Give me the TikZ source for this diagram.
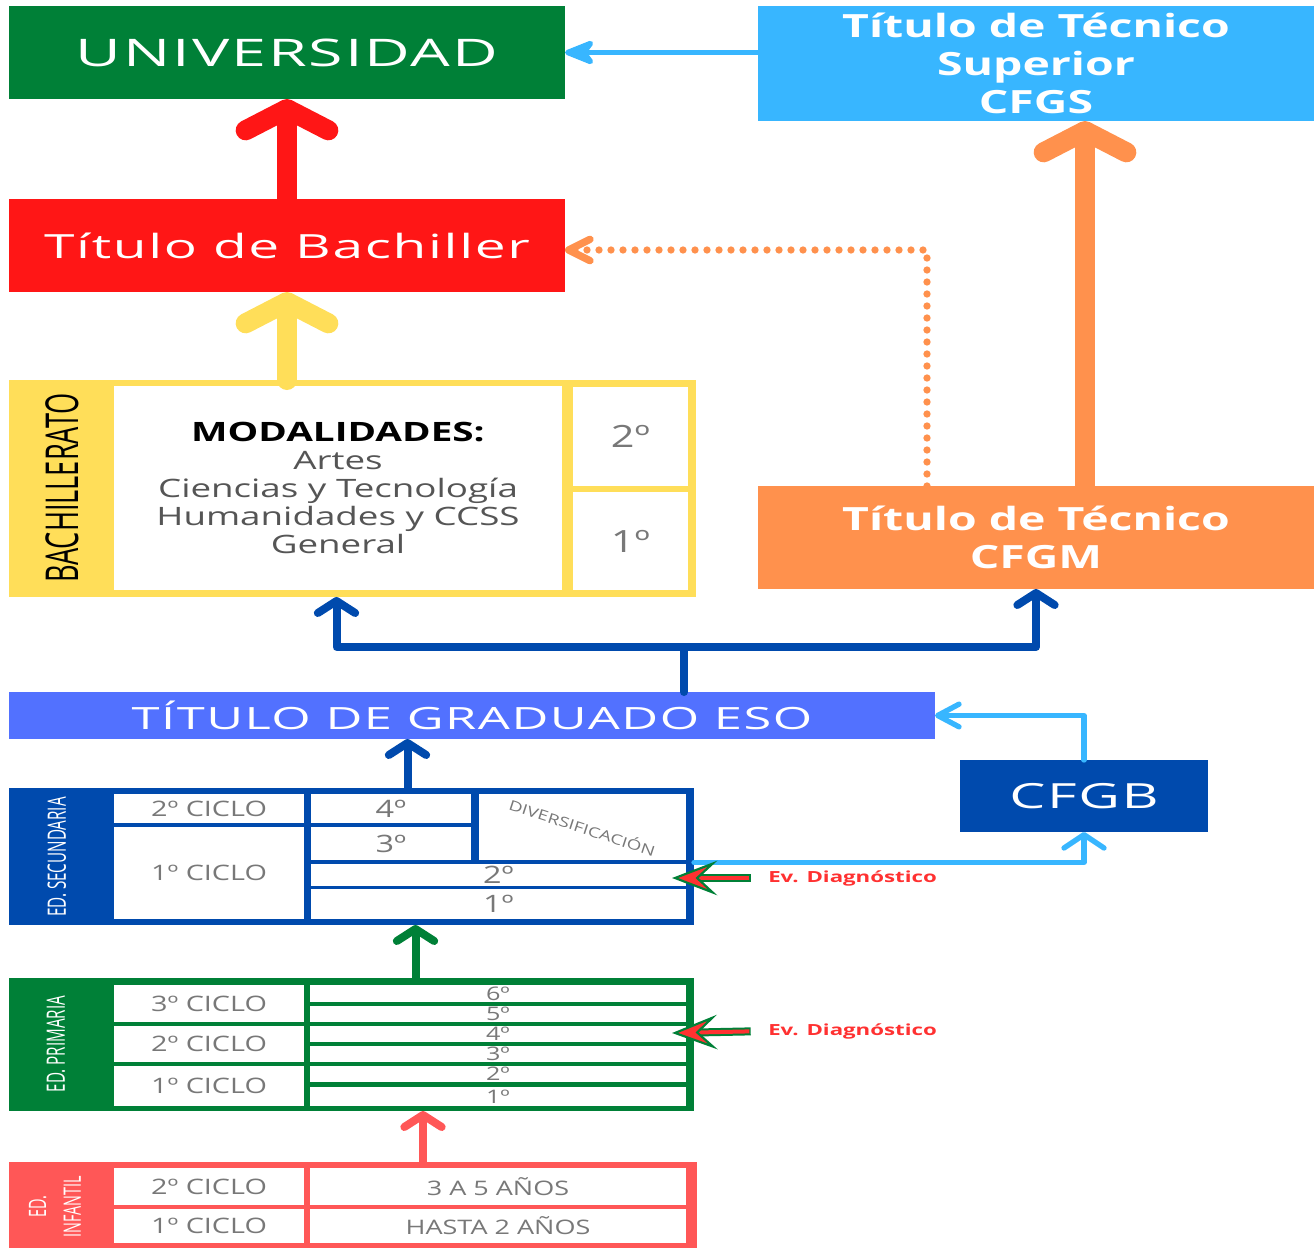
\documentclass[tikz,border=0pt]{standalone}
\usepackage{fontspec}
\setmainfont{Open Sans}
\newfontfamily\hfont[FakeStretch=1.45]{Open Sans}
\newfontfamily\lsfont[FakeStretch=1.65,LetterSpace=5]{Open Sans}
\newfontfamily\cfont[FakeStretch=1.35]{Open Sans}
\newfontfamily\nfont[FakeStretch=0.6]{Open Sans}
\usetikzlibrary{arrows.meta}
\usetikzlibrary{calc}
\definecolor{ugreen}{RGB}{0,128,55}
\definecolor{bred}{RGB}{255,22,22}
\definecolor{skyblue}{RGB}{56,182,255}
\definecolor{corange}{RGB}{255,145,77}
\definecolor{byellow}{RGB}{255,222,89}
\definecolor{dkblue}{RGB}{0,74,173}
\definecolor{esoblue}{RGB}{82,113,255}
\definecolor{ipink}{RGB}{255,87,87}
\definecolor{cellgray}{RGB}{120,120,120}
\definecolor{modgray}{RGB}{85,85,85}
\definecolor{evred}{RGB}{255,49,49}

\tikzset{
	spot/.style args={#1/#2/#3/#4}{minimum width={(#3-#1)*0.75pt},minimum height={(#4-#2)*0.75pt},at={({(#1+#3)/2},{(#2+#4)/2})}},
	box/.style={inner sep=0pt,outer sep=0pt,text=white,align=center},
	frame/.style={inner sep=0pt,outer sep=0pt},
	cellbase/.style={fill=white,inner sep=0pt,outer sep=0pt,text=cellgray},
	cell/.style={cellbase,font=\cfont\fontsize{16}{18}\selectfont},
	grade/.style={cell,font=\cfont\fontsize{14}{15}\selectfont},
	band/.style={rotate=90,text=white,inner sep=0pt,align=center,font=\nfont\fontsize{19}{26}\selectfont},
	evlbl/.style={anchor=west,inner sep=0pt,text=evred,font=\hfont\bfseries\fontsize{11.5}{13}\selectfont},
	bigarrow/.style={line width=15pt,line cap=round,-{Straight Barb[length=16pt,width=62pt,round]}},
	midline/.style={dkblue,line width=6pt,line cap=round,line join=round},
	midarrow/.style={midline,-{Straight Barb[length=9pt,width=28pt,round]}},
	skyline/.style={skyblue,line width=4pt,line cap=round,line join=round},
	skyharrow/.style={skyline,-{Straight Barb[length=16pt,width=17pt,round]}},
	skyvarrow/.style={skyline,-{Straight Barb[length=10pt,width=30pt,round]}},
	skytop/.style={skyline,-{Stealth[length=28pt,width=22pt,inset=8pt,round]}},
	odots/.style={corange,line width=5.5pt,line cap=round,dash pattern=on 0pt off 9pt,-{Straight Barb[length=16pt,width=16pt,round]}},
	evback/.style={ugreen,line width=6pt},
	evfront/.style={evred,line width=3pt,-{Stealth[length=34pt,width=26pt,inset=14pt,fill=evred,color=ugreen,line width=1.6pt]}},
}

\begin{document}
\begin{tikzpicture}[x=0.75pt,y=0.75pt,yscale=-1,xscale=1]
	\useasboundingbox (0,0) rectangle (1316,1248);

	%Shape: Rectangle [id:univ]
	\node[box,fill=ugreen,spot=9/6/565/99,font=\lsfont\fontsize{28.5}{30}\selectfont] (univ) {UNIVERSIDAD};
	%Shape: Rectangle [id:cfgs]
	\node[box,fill=skyblue,spot=758/6/1314/121,font=\hfont\bfseries\fontsize{24}{28.5}\selectfont] (cfgs) {Título de Técnico\\Superior\\CFGS};
	%Shape: Rectangle [id:bach]
	\node[box,fill=bred,spot=9/199/565/292,font=\lsfont\fontsize{25}{27}\selectfont] (bach) {Título de Bachiller};
	%Shape: Rectangle [id:cfgm]
	\node[box,fill=corange,spot=758/486/1314/589,font=\hfont\bfseries\fontsize{24}{28.5}\selectfont] (cfgm) {Título de Técnico\\CFGM};
	%Shape: Rectangle [id:eso]
	\node[box,fill=esoblue,spot=9/692/935/739,font=\lsfont\fontsize{23}{25}\selectfont] (eso) {TÍTULO DE GRADUADO ESO};
	%Shape: Rectangle [id:cfgb]
	\node[box,fill=dkblue,spot=960/760/1208/832,font=\lsfont\fontsize{26}{28}\selectfont] (cfgb) {CFGB};

	%Shape: Rectangle [id:bachi]
	\node[frame,fill=byellow,spot=9/380/696/597] (bachi) {};
	\node[cellbase,spot=114/386/562/590,align=center,text=modgray,font=\hfont\fontsize{19}{21}\selectfont] (modal) {{\bfseries\color{black}\fontsize{20}{21}\selectfont MODALIDADES:}\\Artes\\Ciencias y Tecnología\\Humanidades y CCSS\\General};
	\node[cell,spot=573/387/688/486,font=\cfont\fontsize{23}{25}\selectfont] (b2) {2º};
	\node[cell,spot=573/492/688/590,font=\cfont\fontsize{23}{25}\selectfont] (b1) {1º};
	% Text Node
	\node[band,text=black,font=\nfont\fontsize{34}{36}\selectfont] (bachlbl) at (62,488) {BACHILLERATO};

	%Shape: Rectangle [id:sec]
	\node[frame,fill=dkblue,spot=9/788/694/925] (sec) {};
	\node[cell,spot=114/794/304/823] (s2c) {2º CICLO};
	\node[cell,spot=114/827/304/919] (s1c) {1º CICLO};
	\node[cell,spot=311/794/471/823,font=\cfont\fontsize{18}{20}\selectfont] (s4) {4º};
	\node[cell,spot=311/827/471/860,font=\cfont\fontsize{18}{20}\selectfont] (s3) {3º};
	\node[cellbase,spot=479/794/686/860] (sdiv) {};
	\node[cell,spot=311/864/686/886,font=\cfont\fontsize{18}{20}\selectfont] (s2) {2º};
	\node[cell,spot=311/889/686/919,font=\cfont\fontsize{18}{20}\selectfont] (s1) {1º};
	% Text Node
	\node[rotate=-18,inner sep=0pt,text=cellgray,font=\cfont\fontsize{10.5}{12}\selectfont] (divlbl) at (sdiv.center) {DIVERSIFICACIÓN};
	% Text Node
	\node[band] (seclbl) at (57,857) {ED. SECUNDARIA};

	%Shape: Rectangle [id:prim]
	\node[frame,fill=ugreen,spot=9/978/694/1111] (prim) {};
	\node[cell,spot=114/985/304/1022] (p3c) {3º CICLO};
	\node[cell,spot=114/1026/304/1062] (p2c) {2º CICLO};
	\node[cell,spot=114/1066/304/1106] (p1c) {1º CICLO};
	\node[grade,spot=310/985/686/1002] (p6) {6º};
	\node[grade,spot=310/1006/686/1022] (p5) {5º};
	\node[grade,spot=310/1026/686/1042] (p4) {4º};
	\node[grade,spot=310/1046/686/1062] (p3) {3º};
	\node[grade,spot=310/1066/686/1082] (p2) {2º};
	\node[grade,spot=310/1087/686/1106] (p1) {1º};
	% Text Node
	\node[band] (primlbl) at (56,1044) {ED. PRIMARIA};

	%Shape: Rectangle [id:inf]
	\node[frame,fill=ipink,spot=9/1162/697/1252] (inf) {};
	\node[cell,spot=114/1168/304/1205] (i2c) {2º CICLO};
	\node[cell,spot=114/1209/304/1243] (i1c) {1º CICLO};
	\node[cell,spot=310/1168/686/1205,font=\cfont\fontsize{15}{17}\selectfont] (i2a) {3 A 5 AÑOS};
	\node[cell,spot=310/1209/686/1243,font=\cfont\fontsize{15}{17}\selectfont] (i1a) {HASTA 2 AÑOS};
	% Text Node
	\node[band,font=\nfont\fontsize{18}{26}\selectfont] (inflbl) at (55,1207) {ED.\\INFANTIL};

	%Straight Lines [id:up]
	\draw[skytop] (cfgs.west |- univ.east) -- (univ.east);
	\draw[bigarrow,bred] (bach.north) -- (univ.south);
	\draw[bigarrow,byellow] (bach.south |- bachi.north) -- (bach.south);
	\coordinate (orup) at ($(cfgm.north)+(49,0)$);
	\draw[bigarrow,corange] (orup) -- (orup |- cfgs.south);
	\coordinate (dotup) at ($(cfgm.north)+(-109,0)$);
	\coordinate (dotend) at ($(bach.east)+(0,4.5)$);
	\draw[odots] (dotup) |- (dotend);

	%Straight Lines [id:fork]
	\coordinate (fork) at (684,647);
	\draw[midline] (eso.north -| fork) -- (fork);
	\draw[midarrow] (fork) -| ($(bachi.south)+(-16,0)$);
	\draw[midarrow] (fork) -| (cfgm.south);
	\coordinate (secup) at ($(sec.north)+(56,0)$);
	\draw[midarrow] (secup) -- (secup |- eso.south);
	\coordinate (primup) at ($(prim.north)+(64,0)$);
	\draw[midarrow,ugreen] (primup) -- (primup |- sec.south);
	\coordinate (infup) at ($(inf.north)+(70,0)$);
	\draw[midarrow,ipink] (infup) -- (infup |- prim.south);

	%Straight Lines [id:cfgb]
	\draw[skyharrow] (cfgb.north) |- (eso.east);
	\coordinate (secout) at ($(sec.east)+(0,6)$);
	\draw[skyvarrow] (secout) -| (cfgb.south);

	% Text Node
	\node[evlbl] (evsec) at (768,878) {Ev. Diagnóstico};
	% Text Node
	\node[evlbl] (evprim) at (768,1031) {Ev. Diagnóstico};
	\coordinate (evtipA) at ($(s2.east)+(-14,3)$);
	\coordinate (evtipB) at ($(p4.east)+(-14,-1)$);
	\draw[evback,shorten <=13pt,shorten >=20pt] (evsec.west) -- (evtipA);
	\draw[evfront,shorten <=14pt] (evsec.west) -- (evtipA);
	\draw[evback,shorten <=13pt,shorten >=20pt] (evprim.west) -- (evtipB);
	\draw[evfront,shorten <=14pt] (evprim.west) -- (evtipB);

\end{tikzpicture}
\end{document}
